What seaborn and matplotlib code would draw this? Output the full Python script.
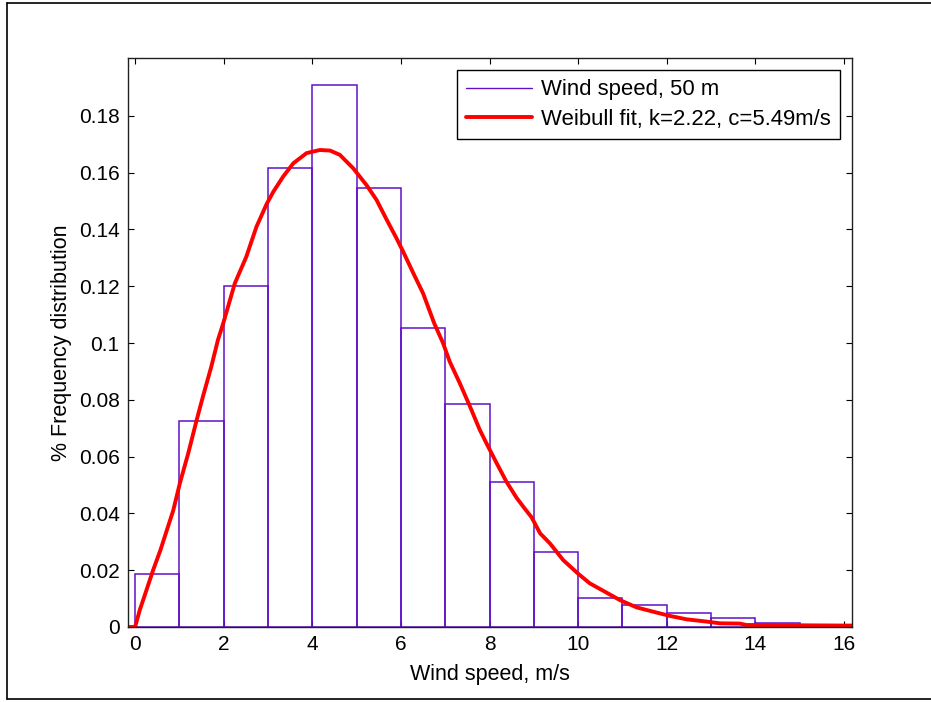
import matplotlib
matplotlib.use("Agg")
import matplotlib.pyplot as plt
from matplotlib.lines import Line2D
from matplotlib.ticker import FuncFormatter
import numpy as np
import pandas as pd
import seaborn as sns

# ---- data ----
bin_edges = [0, 1, 2, 3, 4, 5, 6, 7, 8, 9, 10, 11, 12, 13, 14, 15]
bar_heights = [0.0187, 0.0727, 0.1200, 0.1616, 0.1909, 0.1545, 0.1054, 0.0784,
               0.0511, 0.0265, 0.0101, 0.0077, 0.0048, 0.0031, 0.0015]

curve_x = [-0.16, 0.0, 0.106, 0.257, 0.406, 0.57, 0.86, 1.01, 1.20, 1.39, 1.53, 1.72,
           1.87, 1.99, 2.25, 2.51, 2.74, 2.97, 3.12, 3.34, 3.57, 3.87, 4.17, 4.40,
           4.62, 4.92, 5.22, 5.45, 5.68, 5.90, 6.05, 6.28, 6.50, 6.75, 6.95, 7.10,
           7.33, 7.56, 7.78, 7.93, 8.16, 8.38, 8.61, 8.76, 8.95, 9.14, 9.36, 9.66,
           9.99, 10.26, 10.56, 10.94, 11.32, 11.69, 12.07, 12.45, 12.90, 13.20,
           13.65, 13.80, 14.33, 14.93, 16.06, 16.18]
curve_y = [0.0, 0.0, 0.006, 0.013, 0.020, 0.027, 0.041, 0.0506, 0.0612, 0.0729, 0.0811,
           0.0917, 0.1011, 0.107, 0.121, 0.1304, 0.141, 0.149, 0.1533, 0.1586, 0.1633,
           0.1669, 0.168, 0.1678, 0.1663, 0.1616, 0.1557, 0.1504, 0.1434, 0.1369,
           0.1322, 0.1246, 0.1175, 0.107, 0.1000, 0.0935, 0.0858, 0.0776, 0.0694,
           0.0647, 0.0577, 0.0512, 0.0455, 0.0424, 0.0386, 0.033, 0.0295, 0.0236,
           0.0189, 0.0154, 0.0128, 0.0095, 0.0069, 0.0054, 0.0039, 0.0027, 0.0019,
           0.0013, 0.0012, 0.0007, 0.0007, 0.0006, 0.0005, 0.0005]

x_ticks = [0, 2, 4, 6, 8, 10, 12, 14, 16]
y_ticks = [0, 0.02, 0.04, 0.06, 0.08, 0.10, 0.12, 0.14, 0.16, 0.18]

hist_label = "Wind speed, 50 m"
fit_label = "Weibull fit, k=2.22, c=5.49m/s"
x_label = "Wind speed, m/s"
y_label = "% Frequency distribution"

# ---- style ----
sns.set_style("ticks")
plt.rcParams["font.family"] = ["Liberation Sans", "DejaVu Sans"]
plt.rcParams["xtick.direction"] = "in"
plt.rcParams["ytick.direction"] = "in"
plt.rcParams["text.color"] = "black"
plt.rcParams["axes.labelcolor"] = "black"
plt.rcParams["xtick.color"] = "black"
plt.rcParams["ytick.color"] = "black"

purple = "#6010C8"
red = "#FF0000"

fig = plt.figure(figsize=(9.31, 7.02), dpi=100)
ax = fig.add_axes([128 / 931, 1 - 627 / 702, (852 - 128) / 931, (627 - 58) / 702])

df_bars = pd.DataFrame({
    "center": [e + 0.5 for e in bin_edges[:-1]],
    "h": bar_heights,
})
sns.histplot(data=df_bars, x="center", weights="h", bins=bin_edges,
             stat="count", fill=False, element="bars", color=purple,
             edgecolor=purple, linewidth=1.1, ax=ax)

df_curve = pd.DataFrame({"x": curve_x, "y": curve_y})
sns.lineplot(data=df_curve, x="x", y="y", color=red, linewidth=2.8, ax=ax,
             sort=True, estimator=None)

ax.set_xlim(-0.16, 16.18)
ax.set_ylim(0, 0.2004)
ax.set_xticks(x_ticks)
ax.set_yticks(y_ticks)
ax.yaxis.set_major_formatter(FuncFormatter(lambda v, p: "%g" % round(v, 4)))
ax.tick_params(axis="both", which="both", direction="in", length=4, width=0.8,
               top=True, right=True, labelsize=15, colors="black", pad=6)
for s in ax.spines.values():
    s.set_visible(True)
    s.set_color("#202020")
    s.set_linewidth(1.0)

ax.set_xlabel(x_label, fontsize=15.5, labelpad=7, color="black")
ax.set_ylabel(y_label, fontsize=15.5, labelpad=5, color="black")

handles = [Line2D([0], [0], color=purple, lw=1.0),
           Line2D([0], [0], color=red, lw=2.8)]
leg = ax.legend(handles, [hist_label, fit_label], loc="upper right",
                bbox_to_anchor=(840 / 931, 1 - 70 / 702),
                bbox_transform=fig.transFigure, borderaxespad=0,
                fontsize=15.9, frameon=True, fancybox=False, shadow=False,
                handlelength=3.0, handletextpad=0.4, labelspacing=0.38,
                borderpad=0.42)
leg.get_frame().set_edgecolor("black")
leg.get_frame().set_linewidth(1.0)
leg.get_frame().set_alpha(1)
for t in leg.get_texts():
    t.set_color("black")

# outer frame (left, top, bottom as in reference)
fig.add_artist(Line2D([7 / 931, 7 / 931], [1 - 3 / 702, 1 - 699 / 702],
                      transform=fig.transFigure, color="black", lw=1.2))
fig.add_artist(Line2D([7 / 931, 1.0], [1 - 3 / 702, 1 - 3 / 702],
                      transform=fig.transFigure, color="black", lw=1.2))
fig.add_artist(Line2D([7 / 931, 1.0], [1 - 699 / 702, 1 - 699 / 702],
                      transform=fig.transFigure, color="black", lw=1.2))

fig.savefig("out.png", dpi=100, facecolor="white")
